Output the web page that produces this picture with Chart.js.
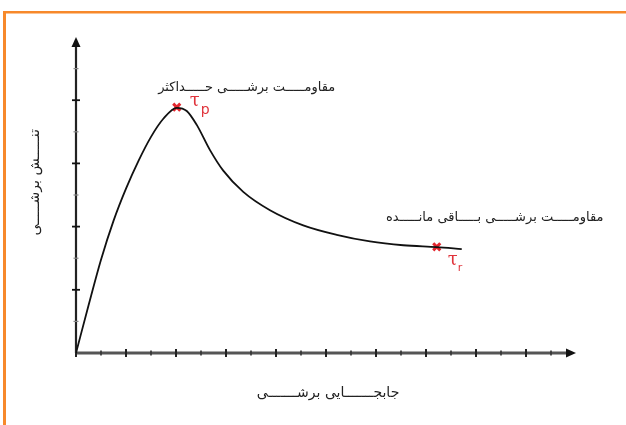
<!DOCTYPE html>
<html>
<head>
<meta charset="utf-8">
<script src="https://cdn.jsdelivr.net/npm/chart.js@4/dist/chart.umd.min.js"></script>
<style>
  html, body { margin: 0; padding: 0; background: #ffffff; }
  #wrap { width: 626px; height: 425px; position: relative; }
</style>
</head>
<body>
<div id="wrap"><canvas id="c" width="626" height="425"></canvas></div>
<script>
// Shear displacement (x) and shear stress (y) along the curve
const displacement = [0, 0.5, 1.0, 1.5, 2.0, 2.5, 3.0, 3.5, 4.03, 4.43, 4.83, 5.36, 5.89, 6.69, 7.76, 9.09, 10.43, 11.76, 13.09, 14.43, 15.43];
const shearStress  = [0, 1.50, 2.95, 4.18, 5.20, 6.08, 6.84, 7.42, 7.76, 7.66, 7.22, 6.42, 5.77, 5.10, 4.52, 4.04, 3.74, 3.53, 3.41, 3.35, 3.29];

// Peak and residual strength points
const peakPoint = { x: 4.03, y: 7.78 };
const residualPoint = { x: 14.43, y: 3.36 };

// Axis extents and tick values
const xMax = 20;
const yMax = 10;
const xTicks = Array.from({ length: 20 }, (_, i) => i);
const yTicks = Array.from({ length: 10 }, (_, i) => i);

// Labels
const peakLabel = 'مقاومـــــت برشـــــی حـــــداکثر';
const residualLabel = 'مقاومـــــت برشـــــی بـــــاقی مانـــــده';
const xTitle = 'جابجـــــــایی برشـــــــی';
const yTitle = 'تنـــــش برشـــــی';

const curve = displacement.map((x, i) => ({ x, y: shearStress[i] }));

const FONT = '"DejaVu Sans", sans-serif';

const axesPlugin = {
  id: 'axesDecor',
  beforeDatasetsDraw(chart) {
    const ctx = chart.ctx;
    const xs = chart.scales.x, ys = chart.scales.y;
    const x0 = xs.getPixelForValue(0), y0 = ys.getPixelForValue(0);
    const xEnd = xs.getPixelForValue(xMax), yEnd = ys.getPixelForValue(yMax);
    ctx.save();

    // frame lines (left and top)
    ctx.fillStyle = '#f7892b';
    ctx.fillRect(3, 11, 3, 425 - 11);
    ctx.fillRect(3, 11, 626 - 3, 2.5);

    // x axis
    ctx.strokeStyle = '#555555';
    ctx.lineWidth = 3;
    ctx.beginPath();
    ctx.moveTo(x0, y0);
    ctx.lineTo(xEnd - 8, y0);
    ctx.stroke();
    ctx.fillStyle = '#111111';
    ctx.beginPath();
    ctx.moveTo(xEnd, y0);
    ctx.lineTo(xEnd - 10, y0 - 4.5);
    ctx.lineTo(xEnd - 10, y0 + 4.5);
    ctx.closePath();
    ctx.fill();

    // y axis
    ctx.strokeStyle = '#222222';
    ctx.lineWidth = 2.2;
    ctx.beginPath();
    ctx.moveTo(x0, y0);
    ctx.lineTo(x0, yEnd + 8);
    ctx.stroke();
    ctx.fillStyle = '#111111';
    ctx.beginPath();
    ctx.moveTo(x0, yEnd);
    ctx.lineTo(x0 - 4.5, yEnd + 10);
    ctx.lineTo(x0 + 4.5, yEnd + 10);
    ctx.closePath();
    ctx.fill();

    // tick marks crossing the axes
    xTicks.forEach(v => {
      const px = xs.getPixelForValue(v);
      const major = v % 2 === 0;
      ctx.strokeStyle = major ? '#222' : '#333';
      ctx.lineWidth = major ? 2 : 1.6;
      const h = major ? 4 : 2.5;
      ctx.beginPath();
      ctx.moveTo(px, y0 - h);
      ctx.lineTo(px, y0 + h);
      ctx.stroke();
    });
    yTicks.forEach(v => {
      if (v === 0) return;
      const py = ys.getPixelForValue(v);
      const major = v % 2 === 0;
      ctx.strokeStyle = major ? '#111' : '#888';
      ctx.lineWidth = major ? 1.8 : 1.2;
      const w = major ? 4 : 2.5;
      ctx.beginPath();
      ctx.moveTo(x0 - w, py);
      ctx.lineTo(x0 + w, py);
      ctx.stroke();
    });

    // axis titles
    ctx.fillStyle = '#222222';
    ctx.font = '14px ' + FONT;
    ctx.textAlign = 'center';
    ctx.textBaseline = 'middle';
    ctx.direction = 'rtl';
    ctx.fillText(xTitle, xs.getPixelForValue(10) + 2, y0 + 40);
    ctx.save();
    ctx.translate(x0 - 41, ys.getPixelForValue(5.4));
    ctx.rotate(-Math.PI / 2);
    ctx.fillText(yTitle, 0, 0);
    ctx.restore();
    ctx.restore();
  },
  afterDatasetsDraw(chart) {
    const ctx = chart.ctx;
    const xs = chart.scales.x, ys = chart.scales.y;
    const px = xs.getPixelForValue(peakPoint.x), py = ys.getPixelForValue(peakPoint.y);
    const rx = xs.getPixelForValue(residualPoint.x), ry = ys.getPixelForValue(residualPoint.y);
    ctx.save();
    ctx.direction = 'rtl';
    ctx.textAlign = 'center';
    ctx.textBaseline = 'middle';
    ctx.fillStyle = '#222222';
    ctx.font = '13px ' + FONT;
    ctx.fillText(peakLabel, px + 70, py - 20);
    ctx.fillText(residualLabel, rx + 58, ry - 29);

    // tau symbols
    ctx.direction = 'ltr';
    ctx.fillStyle = '#e0343c';
    ctx.textAlign = 'left';
    ctx.font = '18px "DejaVu Serif", serif';
    ctx.fillText('τ', px + 13, py - 6);
    ctx.font = '14px "DejaVu Sans", sans-serif';
    ctx.fillText('p', px + 24, py + 3);
    ctx.font = '18px "DejaVu Serif", serif';
    ctx.fillText('τ', rx + 11, ry + 14);
    ctx.font = '11px "DejaVu Sans", sans-serif';
    ctx.fillText('r', rx + 21, ry + 21);
    ctx.restore();
  }
};

new Chart(document.getElementById('c'), {
  type: 'line',
  data: {
    datasets: [
      {
        data: curve,
        borderColor: '#111111',
        borderWidth: 1.8,
        pointRadius: 0,
        cubicInterpolationMode: 'monotone',
        fill: false
      },
      {
        data: [peakPoint, residualPoint],
        showLine: false,
        pointStyle: 'crossRot',
        pointRadius: 5,
        borderColor: '#e3262e',
        backgroundColor: '#e3262e',
        borderWidth: 3
      }
    ]
  },
  options: {
    responsive: false,
    animation: false,
    events: [],
    layout: { padding: { left: 76, right: 50, top: 37, bottom: 72 } },
    plugins: { legend: { display: false }, tooltip: { enabled: false } },
    scales: {
      x: { type: 'linear', min: 0, max: xMax, display: false },
      y: { type: 'linear', min: 0, max: yMax, display: false }
    }
  },
  plugins: [axesPlugin]
});
</script>
</body>
</html>
